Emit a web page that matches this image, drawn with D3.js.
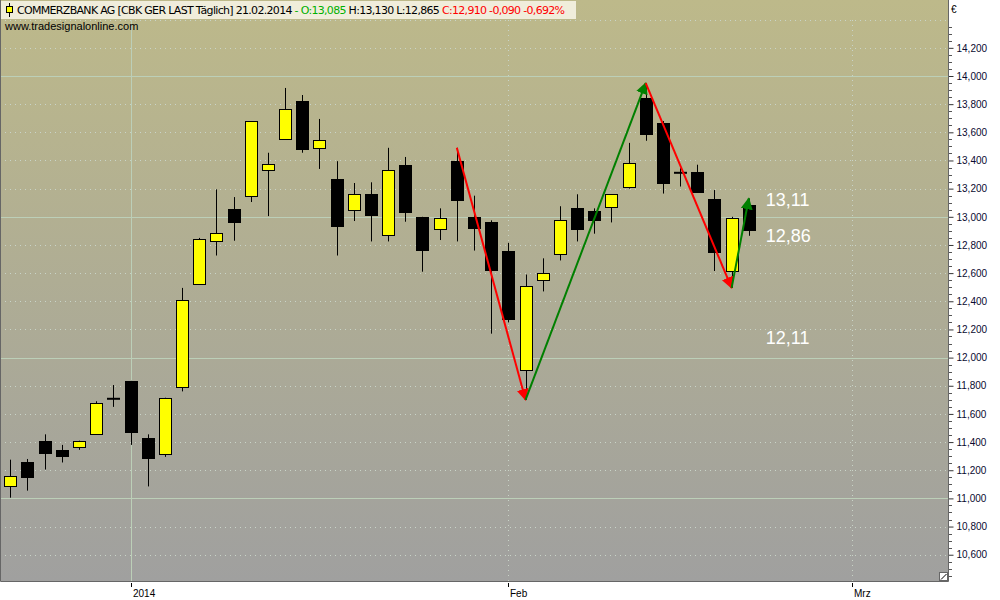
<!DOCTYPE html>
<html>
<head>
<meta charset="utf-8">
<script src="https://cdn.jsdelivr.net/npm/d3@7"></script>
<style>
  html, body { margin: 0; padding: 0; background: #ffffff; }
  svg { display: block; font-family: "Liberation Sans", Arial, sans-serif; }
</style>
</head>
<body>
<svg id="chart" width="1000" height="600"></svg>
<script>
// trading days, Dec 2013 .. 21 Feb 2014
var dates = ['2013-12-17', '2013-12-18', '2013-12-19', '2013-12-20', '2013-12-23', '2013-12-27', '2013-12-30',
  '2014-01-02', '2014-01-03', '2014-01-06', '2014-01-07', '2014-01-08', '2014-01-09', '2014-01-10',
  '2014-01-13', '2014-01-14', '2014-01-15', '2014-01-16', '2014-01-17', '2014-01-20', '2014-01-21',
  '2014-01-22', '2014-01-23', '2014-01-24', '2014-01-27', '2014-01-28', '2014-01-29', '2014-01-30',
  '2014-01-31', '2014-02-03', '2014-02-04', '2014-02-05', '2014-02-06', '2014-02-07', '2014-02-10',
  '2014-02-11', '2014-02-12', '2014-02-13', '2014-02-14', '2014-02-17', '2014-02-18', '2014-02-19',
  '2014-02-20', '2014-02-21'];

var open = [11090, 11260, 11410, 11345, 11365, 11460, 11710, 11835, 11430, 11315, 11795, 12525, 12825, 13055,
  13145, 13335, 13555, 13825, 13485, 13270, 13045, 13160, 12875, 13370, 13000, 12915, 13395, 13000,
  12965, 12755, 11910, 12550, 12735, 13060, 13040, 13065, 13215, 13845, 13665, 13315, 13320, 13125,
  12620, 13085];
var high = [11275, 11280, 11455, 11380, 11410, 11690, 11805, 11835, 11455, 11715, 12495, 12850, 13195, 13140,
  13680, 13455, 13915, 13865, 13695, 13395, 13240, 13245, 13490, 13425, 13000, 13060, 13490, 13150,
  12975, 12815, 12590, 12705, 13075, 13160, 13060, 13160, 13525, 13950, 13680, 13345, 13370, 13190,
  13000, 13130];
var low = [11005, 11055, 11205, 11255, 11345, 11460, 11650, 11380, 11085, 11295, 11760, 12525, 12725, 12830,
  13105, 13005, 13555, 13455, 13340, 12725, 12970, 12825, 12825, 12965, 12610, 12835, 12825, 12760,
  12170, 12250, 11700, 12470, 12690, 12825, 12880, 12960, 13200, 13540, 13165, 13215, 13175, 12615,
  12495, 12865];
var close = [11160, 11155, 11325, 11305, 11410, 11680, 11705, 11475, 11290, 11710, 12410, 12845, 12885, 12965,
  13680, 13375, 13765, 13485, 13545, 12935, 13160, 13010, 13335, 13035, 12765, 12995, 13120, 12925,
  12625, 12270, 12505, 12600, 12975, 12910, 12975, 13160, 13385, 13590, 13240, 13310, 13180, 12750,
  12995, 12910];

// zigzag pivots (candle index / price)
var zigIndex = [26, 30, 37, 42, 43];
var zigValue = [13490, 11700, 13950, 12495, 13130];

// price levels written at the right of the last candle
var levelLabels = ['13,11', '12,86', '12,11'];
var levelValues = [13125, 12865, 12140];

// month labels on the time axis (index in trading days, Mrz lies past the data)
var xTickLabels = ['2014', 'Feb', 'Mrz'];
var xTickIndex = [7, 29, 49];

var PLOT_W = 948;
var PLOT_H = 581;
var BODY_W = 12;

var svg = d3.select('#chart');

var x = d3.scaleLinear().domain([-0.6, 54.6]).range([0, PLOT_W]);
var y = d3.scaleLinear().domain([11000, 14000]).range([498.4, 76]);

var defs = svg.append('defs');
var grad = defs.append('linearGradient')
  .attr('id', 'bg')
  .attr('x1', 0).attr('y1', 0).attr('x2', 0).attr('y2', 1);
grad.append('stop').attr('offset', '0%').attr('stop-color', '#bdb98a');
grad.append('stop').attr('offset', '100%').attr('stop-color', '#a0a09f');

['red', 'green'].forEach(function(c) {
  defs.append('marker')
    .attr('id', 'arrow-' + c)
    .attr('viewBox', '0 0 10 10')
    .attr('refX', 9).attr('refY', 5)
    .attr('markerWidth', 6).attr('markerHeight', 6)
    .attr('markerUnits', 'strokeWidth')
    .attr('orient', 'auto')
    .append('path')
    .attr('d', 'M0,0 L10,5 L0,10 z')
    .attr('fill', c === 'red' ? '#ff0000' : '#008000');
});

defs.append('clipPath').attr('id', 'plot-clip')
  .append('rect').attr('width', PLOT_W).attr('height', PLOT_H);

svg.append('rect')
  .attr('width', PLOT_W)
  .attr('height', PLOT_H)
  .attr('fill', 'url(#bg)');

var plot = svg.append('g').attr('clip-path', 'url(#plot-clip)');

// horizontal grid: solid every 1000, dotted every 200
var gridVals = d3.range(10400, 14601, 200);
plot.selectAll('.hgrid')
  .data(gridVals)
  .enter()
  .append('line')
  .attr('class', 'hgrid')
  .attr('x1', 0).attr('x2', PLOT_W)
  .attr('y1', function(d) { return Math.round(y(d)) + 0.5; })
  .attr('y2', function(d) { return Math.round(y(d)) + 0.5; })
  .attr('stroke', function(d) { return d % 1000 === 0 ? '#bccfb8' : '#c9d4c8'; })
  .attr('stroke-width', 1)
  .attr('stroke-dasharray', function(d) { return d % 1000 === 0 ? null : '1,4'; });

// vertical grid: solid at the year change, dotted at month starts
plot.selectAll('.vgrid')
  .data(xTickIndex)
  .enter()
  .append('line')
  .attr('class', 'vgrid')
  .attr('x1', function(d) { return Math.round(x(d)) + 0.5; })
  .attr('x2', function(d) { return Math.round(x(d)) + 0.5; })
  .attr('y1', 20).attr('y2', PLOT_H)
  .attr('stroke', function(d, i) { return i === 0 ? '#bccfb8' : '#c9d4c8'; })
  .attr('stroke-dasharray', function(d, i) { return i === 0 ? null : '1,4'; });

// candles
var candles = plot.selectAll('.candle')
  .data(dates)
  .enter()
  .append('g')
  .attr('class', 'candle')
  .attr('transform', function(d, i) { return 'translate(' + Math.round(x(i)) + ',0)'; });

candles.append('line')
  .attr('x1', 0.5).attr('x2', 0.5)
  .attr('y1', function(d, i) { return y(high[i]); })
  .attr('y2', function(d, i) { return y(low[i]); })
  .attr('stroke', '#000')
  .attr('stroke-width', 1);

candles.each(function(d, i) {
  var g = d3.select(this);
  if (Math.abs(close[i] - open[i]) <= 10) {
    g.append('line')
      .attr('x1', -BODY_W / 2).attr('x2', BODY_W / 2 + 1)
      .attr('y1', y((open[i] + close[i]) / 2))
      .attr('y2', y((open[i] + close[i]) / 2))
      .attr('stroke', '#000')
      .attr('stroke-width', 2);
    return;
  }
  var top = y(Math.max(open[i], close[i]));
  var bot = y(Math.min(open[i], close[i]));
  g.append('rect')
    .attr('x', -BODY_W / 2 + 0.5)
    .attr('y', Math.round(top) + 0.5)
    .attr('width', BODY_W)
    .attr('height', Math.max(1, Math.round(bot - top)))
    .attr('fill', close[i] > open[i] ? '#ffff00' : '#000000')
    .attr('stroke', '#000')
    .attr('stroke-width', 1);
});

// zigzag with arrow heads
var zig = d3.pairs(d3.range(zigIndex.length));
plot.selectAll('.zig')
  .data(zig)
  .enter()
  .append('line')
  .attr('class', 'zig')
  .attr('x1', function(p) { return x(zigIndex[p[0]]); })
  .attr('y1', function(p) { return y(zigValue[p[0]]); })
  .attr('x2', function(p) { return x(zigIndex[p[1]]); })
  .attr('y2', function(p) { return y(zigValue[p[1]]); })
  .attr('stroke', function(p) { return zigValue[p[1]] < zigValue[p[0]] ? '#ff0000' : '#008000'; })
  .attr('stroke-width', 2)
  .attr('marker-end', function(p) { return zigValue[p[1]] < zigValue[p[0]] ? 'url(#arrow-red)' : 'url(#arrow-green)'; });

// level labels
plot.selectAll('.level')
  .data(levelLabels)
  .enter()
  .append('text')
  .attr('class', 'level')
  .attr('x', x(dates.length - 1) + 17)
  .attr('y', function(d, i) { return y(levelValues[i]); })
  .attr('dy', '0.35em')
  .attr('fill', '#ffffff')
  .attr('font-size', 18)
  .text(function(d) { return d; });

// header
var header = svg.append('g');
header.append('rect')
  .attr('x', 1).attr('y', 1)
  .attr('width', 575).attr('height', 18)
  .attr('fill', '#f0eddb');
header.append('line')
  .attr('x1', 9.5).attr('x2', 9.5).attr('y1', 3).attr('y2', 17)
  .attr('stroke', '#000');
header.append('rect')
  .attr('x', 6.5).attr('y', 6.5).attr('width', 6).attr('height', 6)
  .attr('fill', '#ffff00').attr('stroke', '#000');

var title = header.append('text')
  .attr('x', 17).attr('y', 14)
  .attr('font-family', '"DejaVu Sans", Verdana, sans-serif')
  .attr('font-size', 11)
  .attr('textLength', 548)
  .attr('lengthAdjust', 'spacing');
var parts = [
  ['COMMERZBANK AG [CBK GER LAST Täglich] 21.02.2014 ', '#000'],
  ['- O:13,085 ', '#00b000'],
  ['H:13,130 L:12,865 ', '#000'],
  ['C:12,910 -0,090 -0,692%', '#ff0000']
];
title.selectAll('tspan')
  .data(parts)
  .enter()
  .append('tspan')
  .attr('fill', function(d) { return d[1]; })
  .style('white-space', 'pre')
  .text(function(d) { return d[0]; });

svg.append('text')
  .attr('x', 5).attr('y', 30)
  .attr('font-size', 11)
  .attr('fill', '#000')
  .text('www.tradesignalonline.com');

// right price axis
var yAxis = d3.axisRight(y)
  .tickValues(d3.range(10600, 14201, 200))
  .tickSize(5)
  .tickPadding(3)
  .tickFormat(d3.format(','));

var yAxisG = svg.append('g')
  .attr('transform', 'translate(' + (PLOT_W + 0.5) + ',0)')
  .call(yAxis);
yAxisG.select('.domain').remove();
yAxisG.selectAll('text')
  .attr('font-family', '"Liberation Sans", Arial, sans-serif')
  .attr('font-size', 10)
  .attr('fill', '#0a0a30');
yAxisG.selectAll('line').attr('stroke', '#333');

svg.append('g')
  .selectAll('line')
  .data(d3.range(10450, 14401, 50).filter(function(v) { return v % 200 !== 0; }))
  .enter()
  .append('line')
  .attr('x1', PLOT_W + 1).attr('x2', PLOT_W + 4)
  .attr('y1', function(d) { return Math.round(y(d)) + 0.5; })
  .attr('y2', function(d) { return Math.round(y(d)) + 0.5; })
  .attr('stroke', '#555');

svg.append('text')
  .attr('x', 951).attr('y', 13)
  .attr('font-size', 10)
  .attr('fill', '#000')
  .text('€');

// bottom time axis
var xAxisG = svg.append('g');
xAxisG.selectAll('line')
  .data(xTickIndex)
  .enter()
  .append('line')
  .attr('x1', function(d) { return Math.round(x(d)) + 0.5; })
  .attr('x2', function(d) { return Math.round(x(d)) + 0.5; })
  .attr('y1', PLOT_H + 2).attr('y2', PLOT_H + 6)
  .attr('stroke', '#000');
xAxisG.selectAll('text')
  .data(xTickLabels)
  .enter()
  .append('text')
  .attr('x', function(d, i) { return Math.round(x(xTickIndex[i])) + 2; })
  .attr('y', 597)
  .attr('font-size', 10)
  .attr('fill', '#000')
  .text(function(d) { return d; });

// plot border
svg.append('path')
  .attr('d', 'M0.5,0 V' + (PLOT_H + 0.5) + ' H' + (PLOT_W + 0.5) + ' V0')
  .attr('fill', 'none')
  .attr('stroke', '#666');

// resize grip
svg.append('rect')
  .attr('x', PLOT_W - 8.5).attr('y', PLOT_H - 8.5)
  .attr('width', 8).attr('height', 8)
  .attr('fill', '#fff').attr('stroke', '#666');
svg.append('line')
  .attr('x1', PLOT_W - 7).attr('y1', PLOT_H - 1.5)
  .attr('x2', PLOT_W - 1.5).attr('y2', PLOT_H - 7)
  .attr('stroke', '#000');
</script>
</body>
</html>
